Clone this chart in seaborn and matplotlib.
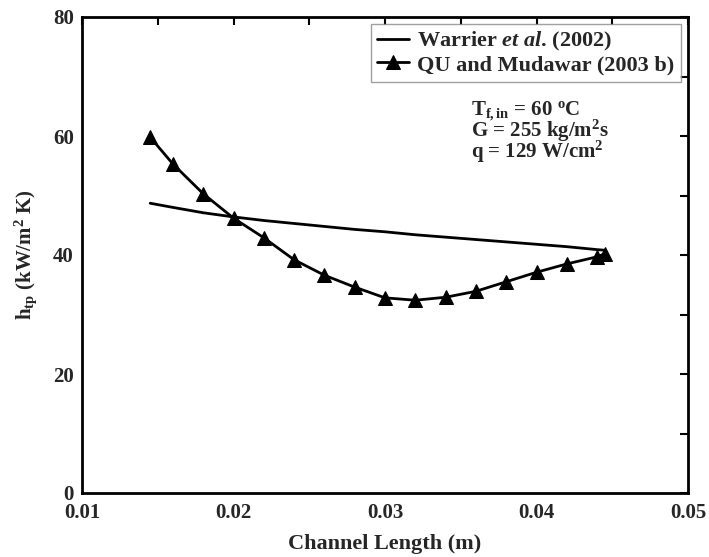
import matplotlib
matplotlib.use("Agg")
import matplotlib.pyplot as plt
import seaborn as sns
import pandas as pd
from matplotlib.ticker import MultipleLocator

# Data
x_qu = [0.0145, 0.016, 0.018, 0.020, 0.022, 0.024, 0.026, 0.028, 0.030,
        0.032, 0.034, 0.036, 0.038, 0.040, 0.042, 0.044, 0.0445]
h_qu = [59.8, 55.3, 50.3, 46.2, 42.9, 39.2, 36.6, 34.6, 32.8,
        32.4, 32.9, 33.9, 35.5, 37.1, 38.5, 39.7, 40.2]
x_war = [0.0145, 0.016, 0.018, 0.020, 0.022, 0.024, 0.026, 0.028, 0.030,
         0.032, 0.034, 0.036, 0.038, 0.040, 0.042, 0.044, 0.0445]
h_war = [48.7, 48.0, 47.1, 46.4, 45.8, 45.3, 44.8, 44.3, 43.9,
         43.4, 43.0, 42.6, 42.2, 41.8, 41.4, 40.9, 40.8]
labels = ["Warrier $\\mathit{et\\ al}$. (2002)", "QU and Mudawar (2003 b)"]
xticks = [0.01, 0.02, 0.03, 0.04, 0.05]
xticklabels = ["0.01", "0.02", "0.03", "0.04", "0.05"]
notes = ["T$_{\\mathbf{f,in}}$ = 60 $^{\\mathbf{o}}$C",
         "G = 255 kg/m$^{\\mathbf{2}}$s",
         "q = 129 W/cm$^{\\mathbf{2}}$"]
note_y = [63.5, 59.8, 56.4]

sns.set_theme(style="white")
plt.rcParams["font.family"] = ["Liberation Serif", "DejaVu Serif"]
plt.rcParams["font.weight"] = "bold"
plt.rcParams["mathtext.fontset"] = "custom"
plt.rcParams["mathtext.rm"] = "Liberation Serif:bold"
plt.rcParams["mathtext.it"] = "Liberation Serif:bold:italic"
plt.rcParams["mathtext.bf"] = "Liberation Serif:bold"

df_war = pd.DataFrame({"x": x_war, "h": h_war})
df_qu = pd.DataFrame({"x": x_qu, "h": h_qu})

fig = plt.figure(figsize=(7.09, 5.57), dpi=100)
ax = fig.add_axes([82/709, 1-493/557, (688-82)/709, (493-17)/557])

sns.lineplot(data=df_war, x="x", y="h", ax=ax, color="black", lw=2.0,
             label=labels[0], sort=False)
sns.lineplot(data=df_qu, x="x", y="h", ax=ax, color="black", lw=2.0,
             marker="^", markersize=10, markeredgecolor="black",
             label=labels[1], sort=False)

ax.set_xlim(0.01, 0.05)
ax.set_ylim(0, 80)
ax.set_xticks(xticks)
ax.set_xticklabels(xticklabels)
ax.xaxis.set_minor_locator(MultipleLocator(0.005))
ax.yaxis.set_major_locator(MultipleLocator(20))
ax.yaxis.set_minor_locator(MultipleLocator(10))
ax.tick_params(which="both", direction="in", top=True, right=True,
               width=1.5, length=6, labelsize=15, pad=6, color="black")
ax.tick_params(axis="x", pad=7)
for lab in ax.get_xticklabels() + ax.get_yticklabels():
    lab.set_fontweight("bold")
for s in ax.spines.values():
    s.set_linewidth(2)
    s.set_color("black")

ax.set_xlabel("Channel Length (m)", fontsize=16, fontweight="bold", labelpad=8)
ax.set_ylabel("h$_{\\mathbf{tp}}$ (kW/m$^{\\mathbf{2}}$ K)", fontsize=15,
              fontweight="bold", labelpad=10)

leg = ax.legend(loc="upper right", fontsize=16, frameon=True, fancybox=False,
                edgecolor="#888888", handlelength=1.4, borderpad=0.3,
                labelspacing=0.05, borderaxespad=0.3, handletextpad=0.4)
leg.get_frame().set_linewidth(1.0)
for t in leg.get_texts():
    t.set_fontweight("bold")

for txt, yv in zip(notes, note_y):
    ax.text(0.0357, yv, txt, fontsize=15, fontweight="bold",
            va="baseline", ha="left")

fig.savefig("out.png", dpi=100)
